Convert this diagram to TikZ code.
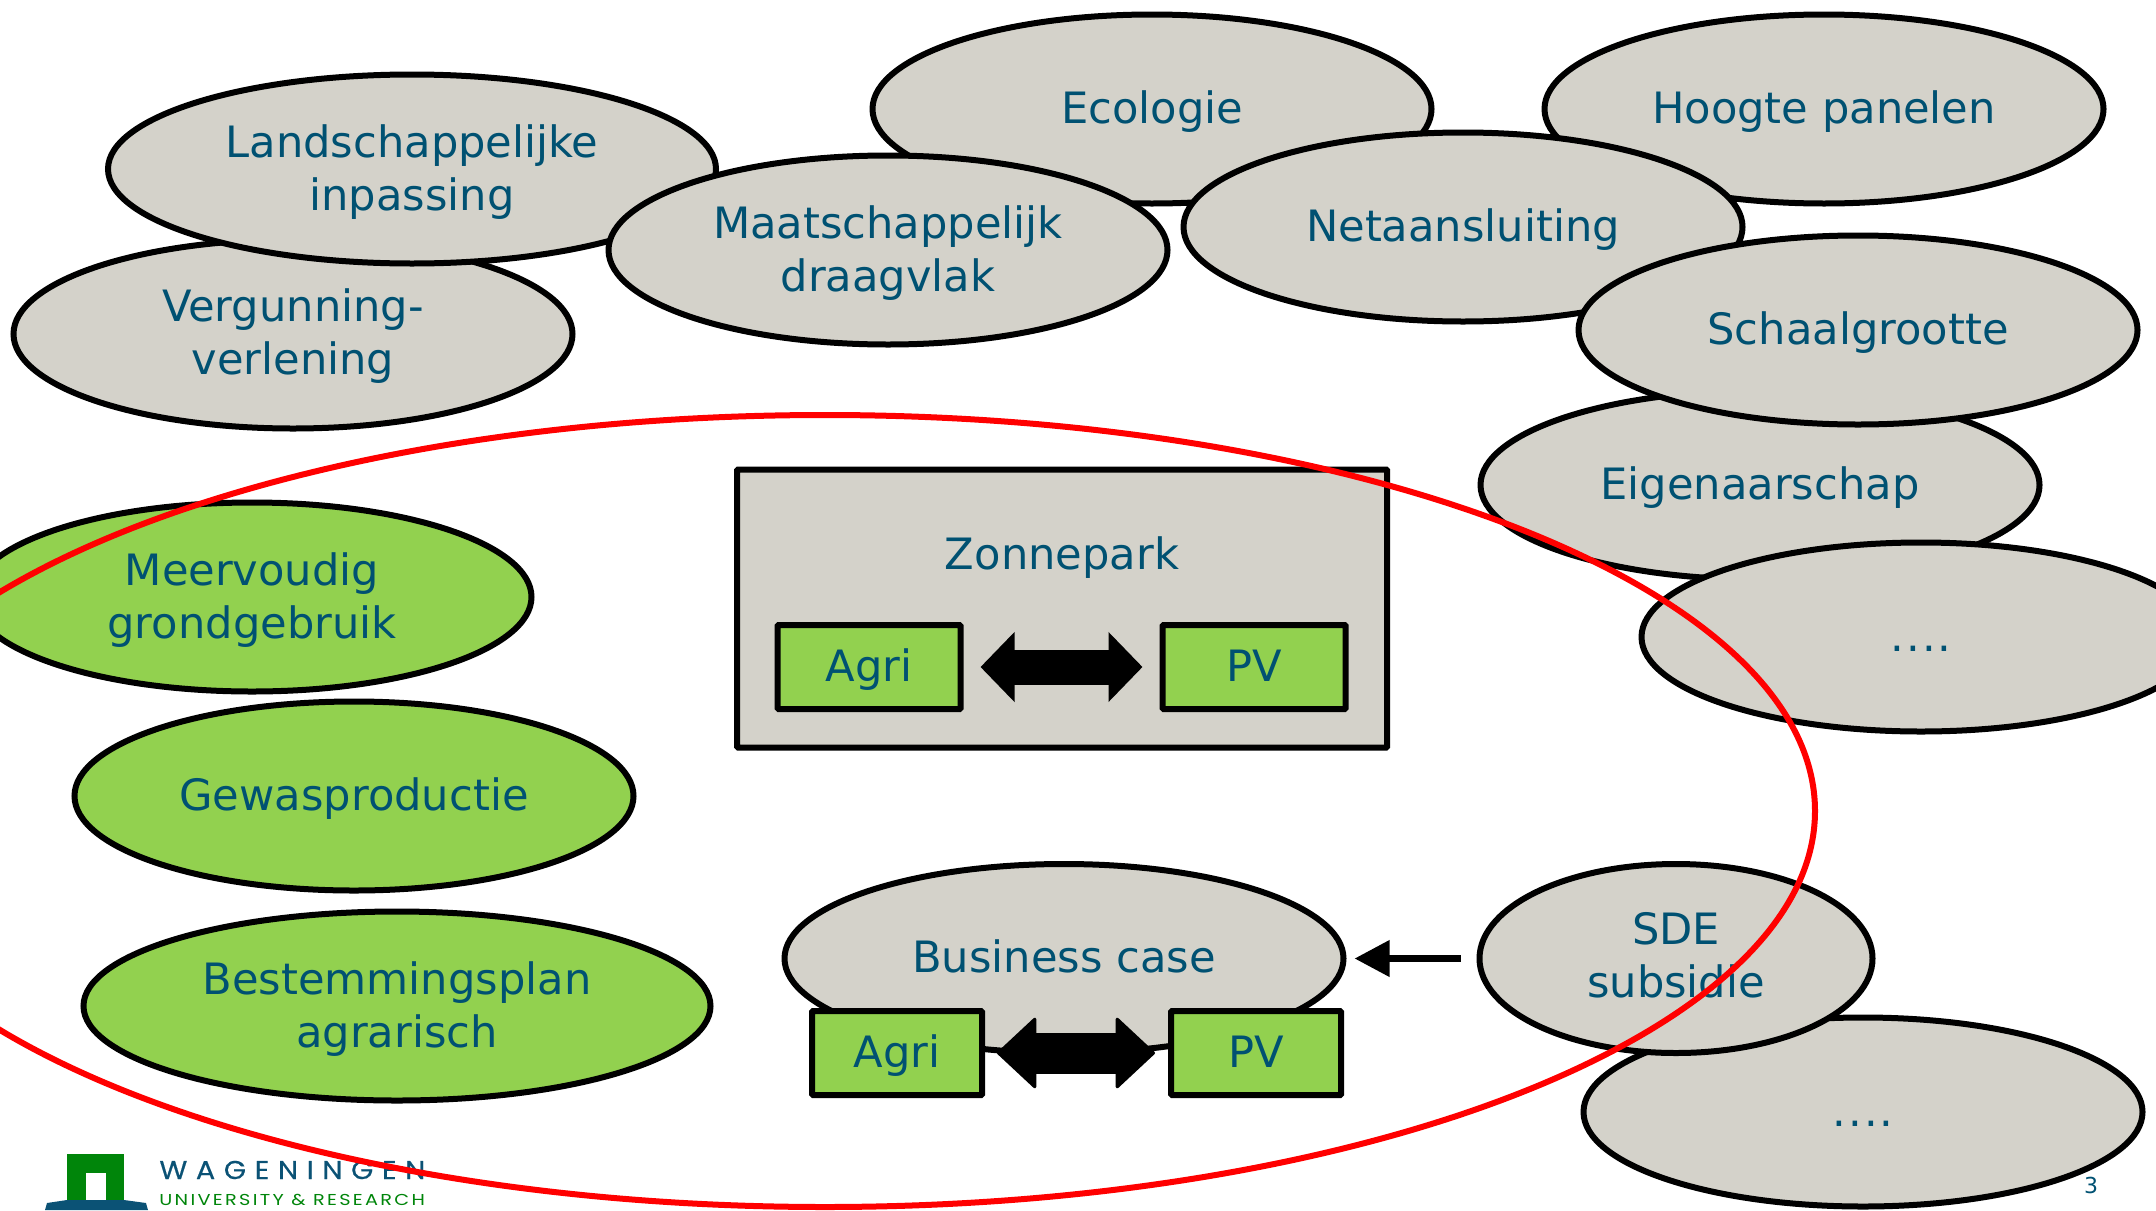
\documentclass[tikz,border=0pt]{standalone}
\usepackage{fontspec}
\setmainfont{DejaVu Sans}
\newfontfamily\logofont[LetterSpace=30,FakeBold=0.5]{Poppins}
\newfontfamily\logofontb[LetterSpace=12]{Poppins}
\usetikzlibrary{shapes.geometric,arrows.meta}
\definecolor{wurblue}{HTML}{005172}
\definecolor{wurgrey}{HTML}{D4D2CA}
\definecolor{wurlime}{HTML}{92D14F}
\definecolor{logogreen}{HTML}{00850A}
\definecolor{logoblue}{HTML}{0B5275}
\newcommand{\fourdots}{{\addfontfeature{LetterSpace=4.5}....}}
\newcommand{\strutA}{\rule{0pt}{20.5pt}}
\newcommand{\strutB}{\rule{0pt}{19pt}}
\newcommand{\strutC}{\rule{0pt}{17.8pt}}
\tikzset{
  txt/.style={text=wurblue,inner sep=0pt,outer sep=0pt,font=\fontsize{21.6}{26.5}\selectfont,
    execute at begin node={\rule[-5.1pt]{0pt}{24.4pt}}},
  oval/.style={txt,ellipse,draw=black,line width=3pt,fill=wurgrey,
    minimum width=279.5pt,minimum height=94.5pt,align=center},
  greenoval/.style={oval,fill=wurlime},
  box/.style={txt,rectangle,draw=black,line width=3pt,fill=wurlime,rounded corners=0.5pt},
  blocka/.style={line width=17.5pt,draw=black,{Triangle[length=17pt,width=34pt]}-{Triangle[length=17pt,width=34pt]}},
  blockb/.style={line width=20.5pt,draw=black,line join=round,
    {Triangle[length=20pt,width=37pt,round,line width=1.5pt]}-{Triangle[length=20pt,width=37pt,round,line width=1.5pt]}}
}
\begin{document}
\begin{tikzpicture}[x=0.5pt,y=-0.5pt]
\useasboundingbox (0,0) rectangle (2156,1210);
% logo
\fill[logogreen] (67,1154) rectangle (124,1205);
\fill[white] (86,1173) rectangle (106,1205);
\fill[logoblue] (45,1210) -- (47,1203) -- (67,1200) -- (124,1200) -- (146,1203) -- (148,1210) -- cycle;
\fill[logoblue] (86,1210) -- (86,1201) -- (106,1201) -- (106,1210) -- cycle;
\node[anchor=base west,inner sep=0pt,text=logoblue,font=\fontsize{12.9}{13}\logofont] (wag) at (159,1179) {\scalebox{1.11}[1]{WAGENINGEN}};
\node[anchor=base west,inner sep=0pt,text=logogreen,font=\fontsize{7.9}{8}\logofontb] (uni) at (159,1205) {\scalebox{1.22}[1]{UNIVERSITY \& RESEARCH}};
% ovals, back to front
\node[oval] (verg) at (293,334) {\strutB Vergunning-\\verlening};
\node[oval,minimum width=304pt] (land) at (412,169) {\strutA Landschappelijke\\inpassing};
\node[oval] (eco) at (1152,109) {Ecologie};
\node[oval] (hoog) at (1824,109) {Hoogte panelen};
\node[oval] (maat) at (888,250) {\strutA Maatschappelijk\\draagvlak};
\node[oval] (net) at (1463,227) {Netaansluiting};
\node[oval] (eig) at (1760,485) {Eigenaarschap};
\node[oval] (schaal) at (1858,330) {Schaalgrootte};
\node[oval] (dotsa) at (1921,637) {\fourdots};
\node[greenoval] (meer) at (252,597) {\strutA Meervoudig\\grondgebruik};
\node[greenoval] (gewas) at (354,796) {Gewasproductie};
\node[greenoval,minimum width=313.5pt] (best) at (397,1006) {\strutA Bestemmingsplan\\agrarisch};
% Zonnepark
\node[box,fill=wurgrey,minimum width=325pt,minimum height=139pt] (park) at (1062,608.5) {};
\node[txt] (parklabel) at (1062,555) {Zonnepark};
\node[box,minimum width=91.5pt,minimum height=42pt] (agria) at (869,667) {Agri};
\node[box,minimum width=91.5pt,minimum height=42pt] (pva) at (1254,667) {PV};
\draw[blocka,shorten <=10pt,shorten >=10pt] (agria) -- (pva);
% Business case
\node[oval] (bus) at (1064,958.5) {Business case};
\node[oval] (dotsb) at (1863,1112) {\fourdots};
\node[oval,minimum width=196.5pt] (sde) at (1676,958.5) {\strutC SDE\\subsidie};
\node[box,minimum width=85pt,minimum height=42pt] (agrib) at (897,1053) {Agri};
\node[box,minimum width=85pt,minimum height=42pt] (pvb) at (1256,1053) {PV};
\draw[blockb,shorten <=7.5pt,shorten >=8pt] (agrib) -- (pvb);
\draw[line width=3.5pt,black,-{Triangle[length=17.5pt,width=17.5pt]},shorten <=9.5pt,shorten >=5.5pt] (sde) -- (bus);
% red ring
\node[ellipse,draw=red,line width=3pt,fill=none,inner sep=0pt,outer sep=0pt,minimum width=990pt,minimum height=396pt] (ring) at (825,811) {};
% page number
\node[text=wurblue,inner sep=0pt,font=\fontsize{11}{12}\selectfont] (page) at (2091,1185) {3};
\end{tikzpicture}
\end{document}
